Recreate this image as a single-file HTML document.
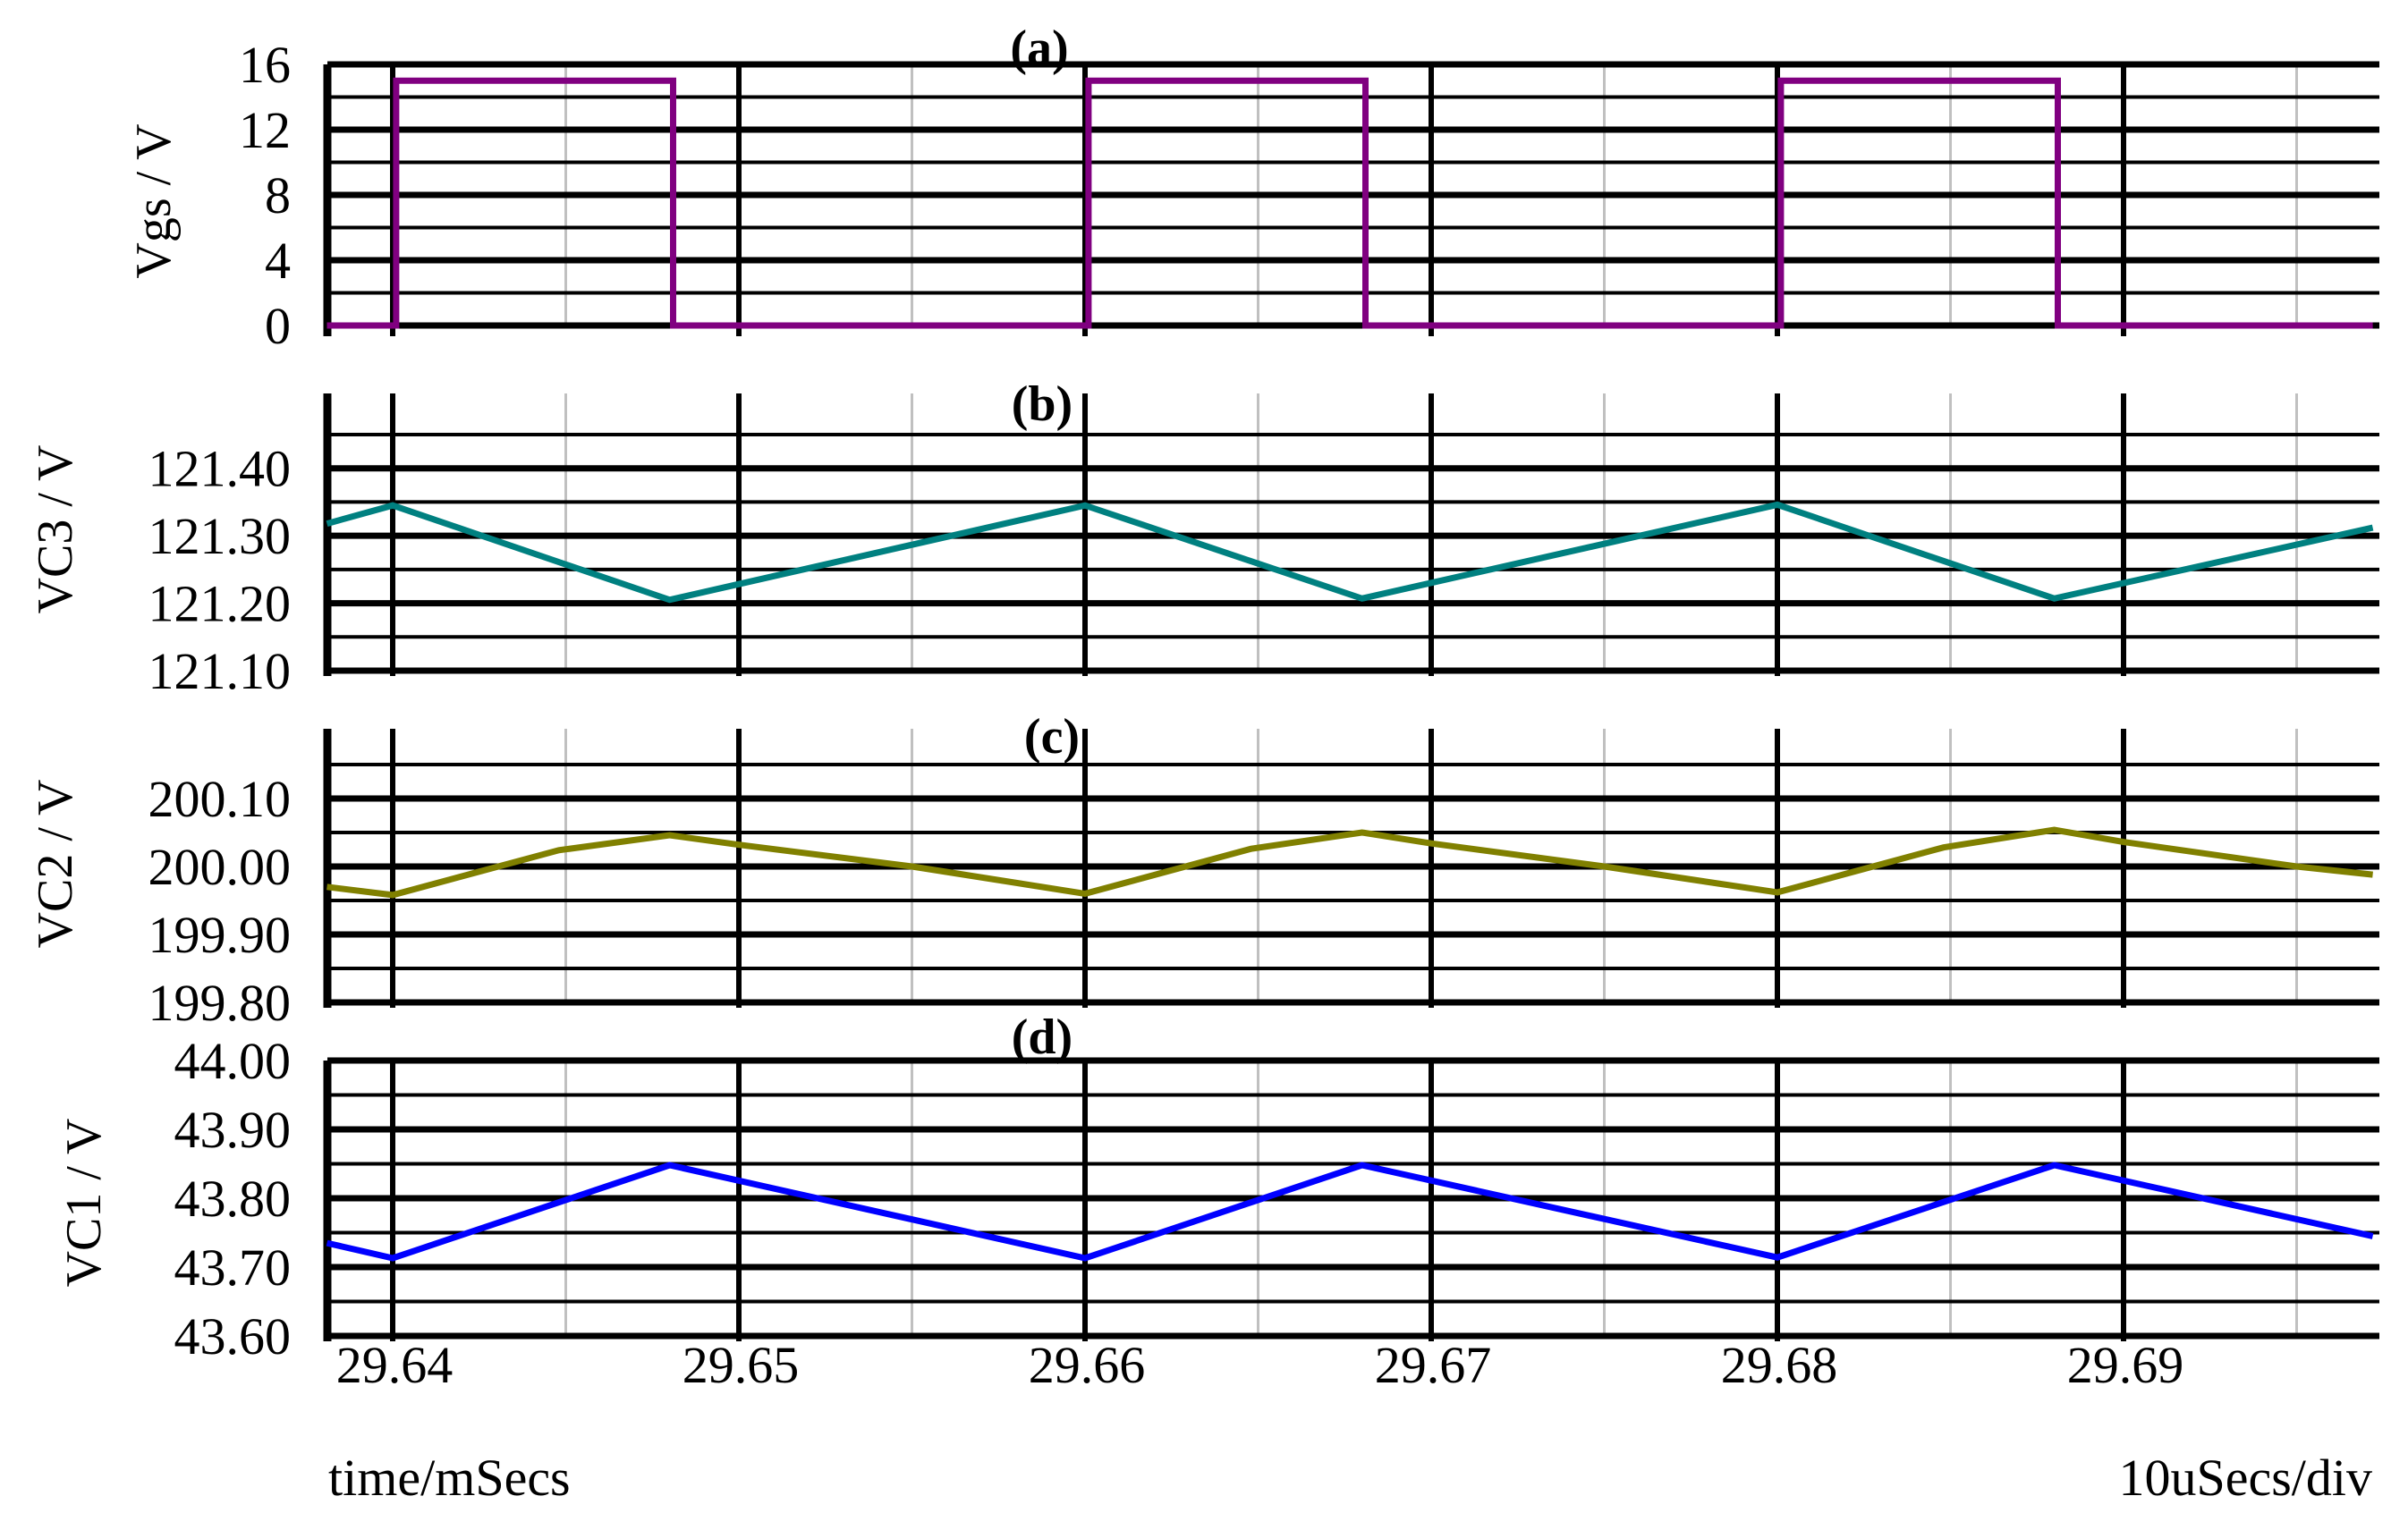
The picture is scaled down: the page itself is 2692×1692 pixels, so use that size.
<!DOCTYPE html>
<html><head><meta charset="utf-8"><style>
html,body{margin:0;padding:0;background:#fff}
svg{display:block}
text{font-family:"Liberation Serif",serif;fill:#000}
</style></head><body>
<svg id="chart" width="2692" height="1692" viewBox="0 0 2692 1692" xmlns="http://www.w3.org/2000/svg"></svg>
<script>
// ---- data ----
const xTicks = [29.64, 29.65, 29.66, 29.67, 29.68, 29.69];
const xTickLabels = ["29.64", "29.65", "29.66", "29.67", "29.68", "29.69"];
const vgsT = [29.6381, 29.6401, 29.6401, 29.6481, 29.6481, 29.6601, 29.6601, 29.6681, 29.6681, 29.6801, 29.6801, 29.6881, 29.6881, 29.6972];
const vgsV = [0, 0, 15, 15, 0, 0, 15, 15, 0, 0, 15, 15, 0, 0];
const vc3T = [29.6381, 29.640, 29.648, 29.660, 29.668, 29.680, 29.688, 29.6972];
const vc3V = [121.318, 121.345, 121.205, 121.345, 121.207, 121.346, 121.207, 121.312];
const vc2T = [29.6381, 29.640, 29.6448, 29.648, 29.650, 29.655, 29.660, 29.6648, 29.668, 29.670, 29.675, 29.680, 29.6848, 29.688, 29.690, 29.695, 29.6972];
const vc2V = [199.970, 199.958, 200.024, 200.046, 200.032, 200.000, 199.960, 200.026, 200.050, 200.034, 200.000, 199.962, 200.028, 200.054, 200.036, 200.000, 199.988];
const vc1T = [29.6381, 29.640, 29.648, 29.660, 29.668, 29.680, 29.688, 29.6972];
const vc1V = [43.735, 43.713, 43.848, 43.713, 43.848, 43.714, 43.848, 43.745];
const vgsTicks = [0, 4, 8, 12, 16];
const vgsTickLabels = ["0", "4", "8", "12", "16"];
const vc3Ticks = [121.10, 121.20, 121.30, 121.40];
const vc3TickLabels = ["121.10", "121.20", "121.30", "121.40"];
const vc2Ticks = [199.80, 199.90, 200.00, 200.10];
const vc2TickLabels = ["199.80", "199.90", "200.00", "200.10"];
const vc1Ticks = [43.60, 43.70, 43.80, 43.90, 44.00];
const vc1TickLabels = ["43.60", "43.70", "43.80", "43.90", "44.00"];

// ---- layout ----
const svg = document.getElementById('chart');
const NS = 'http://www.w3.org/2000/svg';
const X0 = 366, X1 = 2660;
const xScale = t => 439 + (t - 29.64) / 0.01 * 387;
function mk(tag, attrs, parent) {
  const e = document.createElementNS(NS, tag);
  for (const k in attrs) e.setAttribute(k, attrs[k]);
  (parent || svg).appendChild(e);
  return e;
}
const panels = [
  {key:'vgs', t:vgsT, v:vgsV, color:'#800080', min:0, max:16, yTop:72, yBot:364, gridStep:2, vTop:72, vBot:376,
   ticks:vgsTicks, labels:vgsTickLabels, tag:'(a)', tagX:1162, tagY:72, title:'Vgs / V', titleX:170, titleY:225},
  {key:'vc3', t:vc3T, v:vc3V, color:'#008080', min:121.10, max:121.45, yTop:486, yBot:750, gridStep:0.05, vTop:440, vBot:756,
   ticks:vc3Ticks, labels:vc3TickLabels, tag:'(b)', tagX:1165, tagY:470, title:'VC3 / V', titleX:60, titleY:592},
  {key:'vc2', t:vc2T, v:vc2V, color:'#808000', min:199.80, max:200.15, yTop:855, yBot:1121, gridStep:0.05, vTop:815, vBot:1127,
   ticks:vc2Ticks, labels:vc2TickLabels, tag:'(c)', tagX:1176, tagY:842, title:'VC2 / V', titleX:60, titleY:966},
  {key:'vc1', t:vc1T, v:vc1V, color:'#0000ff', min:43.60, max:44.00, yTop:1186, yBot:1494, gridStep:0.05, vTop:1186, vBot:1500,
   ticks:vc1Ticks, labels:vc1TickLabels, tag:'(d)', tagX:1165, tagY:1178, title:'VC1 / V', titleX:92, titleY:1345}
];
panels.forEach(p => {
  const g = mk('g', {});
  
  
  const yS = v => p.yBot - (v - p.min) / (p.max - p.min) * (p.yBot - p.yTop);
  for (let i = 0; i < 7; i++) {
    const t = 29.635 + i * 0.01;
    const x = xScale(t);
    if (x < X0 || x > X1) continue;
    const l = mk('line', {x1:x, x2:x, y1:p.vTop, y2:p.yBot, stroke:'#c0c0c0', 'stroke-width':3}, g);
    
    
  }
  const n = Math.round((p.max - p.min) / p.gridStep);
  for (let i = 0; i <= n; i++) {
    const y = yS(p.min + i * p.gridStep);
    const l = mk('line', {x1:X0, x2:X1, y1:y, y2:y, stroke:'#000', 'stroke-width': (i % 2 === 0 ? 7 : 4)}, g);
    
    
  }
  xTicks.forEach(t => {
    const x = xScale(t);
    const l = mk('line', {x1:x, x2:x, y1:p.vTop, y2:p.vBot, stroke:'#000', 'stroke-width':6}, g);
    
    
  });
  const ax = mk('line', {x1:X0, x2:X0, y1:p.vTop, y2:p.vBot, stroke:'#000', 'stroke-width':9}, g);
  
  
  p.ticks.forEach((v, i) => {
    const tx = mk('text', {x:325, y:yS(v) + 20, 'text-anchor':'end', 'font-size':58}, g);
    tx.textContent = p.labels[i];
    
    
  });
  const pts = p.t.map((t, i) => xScale(t).toFixed(1) + ',' + yS(p.v[i]).toFixed(1)).join(' ');
  const pl = mk('polyline', {points:pts, fill:'none', stroke:p.color, 'stroke-width':7, 'stroke-linejoin':'miter'}, g);
  
  
  const tg = mk('text', {x:p.tagX, y:p.tagY, 'text-anchor':'middle', 'font-size':56, 'font-weight':'bold'}, g);
  tg.textContent = p.tag;
  
  
  const tt = mk('text', {x:0, y:0, 'text-anchor':'middle', 'font-size':56, transform:'translate(' + (p.titleX + 20) + ',' + p.titleY + ') rotate(-90)'}, g);
  tt.textContent = p.title;
  
  
});
xTicks.forEach((t, i) => {
  const tx = mk('text', {x:xScale(t) + 2, y:1546, 'text-anchor':'middle', 'font-size':58});
  tx.textContent = xTickLabels[i];
  
  
});
const xl = mk('text', {x:367, y:1672, 'font-size':58});
xl.textContent = 'time/mSecs';


const dv = mk('text', {x:2652, y:1672, 'text-anchor':'end', 'font-size':58});
dv.textContent = '10uSecs/div';


</script>
</body></html>
